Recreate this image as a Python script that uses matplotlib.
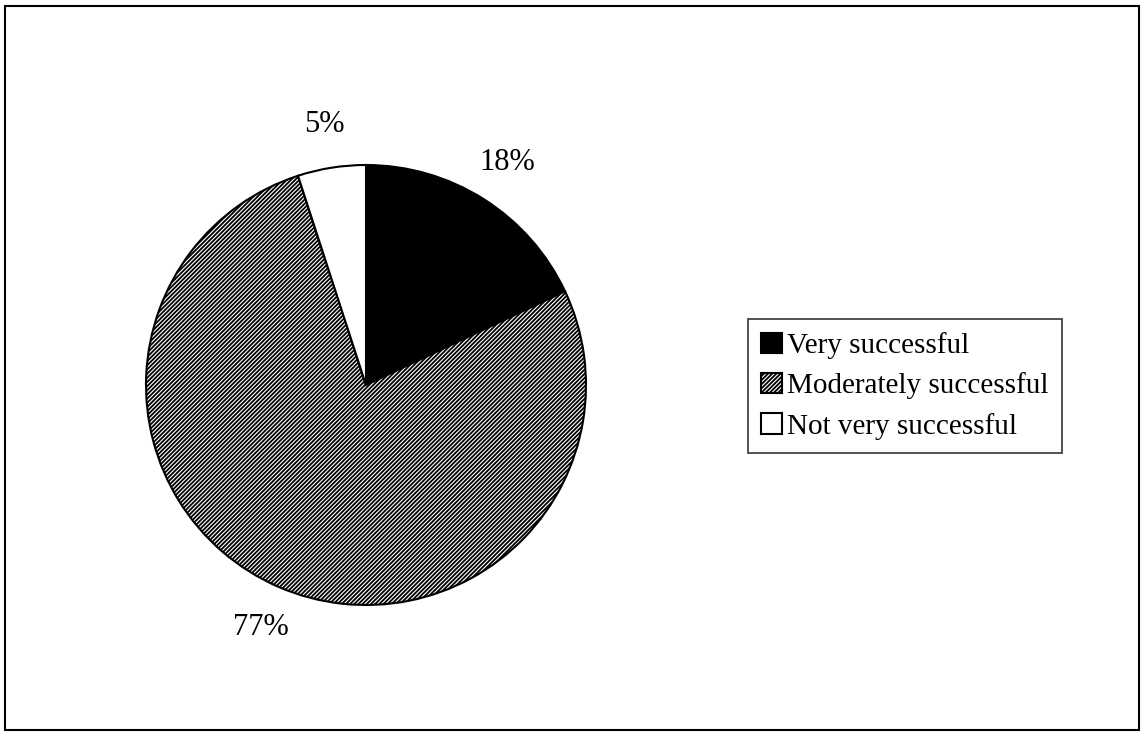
import matplotlib.pyplot as plt
from matplotlib.patches import Rectangle

# data
labels = ["Very successful", "Moderately successful", "Not very successful"]
shares = [18, 77, 5]

plt.rcParams['font.family'] = ['Liberation Serif', 'DejaVu Serif']
plt.rcParams['hatch.linewidth'] = 1.3

W, H = 1144, 735
fig = plt.figure(figsize=(W / 100, H / 100), dpi=100)

# outer frame
fig.patches.append(Rectangle((5 / W, 5 / H), 1134 / W, 724 / H, transform=fig.transFigure,
                             fill=False, edgecolor='black', linewidth=1.5))

# pie axes, centre about (366, 385) px, radius about 220 px
cx, cy, r = 366, 385, 220
ax = fig.add_axes([(cx - r) / W, (H - cy - r) / H, 2 * r / W, 2 * r / H])
wedges, texts, autotexts = ax.pie(
    shares, startangle=90, counterclock=False,
    colors=['black', 'white', 'white'],
    autopct='%d%%', pctdistance=1.2,
    wedgeprops=dict(edgecolor='black', linewidth=1.5),
    textprops=dict(fontsize=22, color='black'))
wedges[1].set_hatch('////////')
ax.set_xlim(-1, 1)
ax.set_ylim(-1, 1)
ax.set_aspect('equal')
ax.axis('off')

leg = fig.legend(wedges, labels, loc='center left',
                 bbox_to_anchor=(748 / W, 1 - 386 / H),
                 fontsize=21, frameon=True, fancybox=False,
                 edgecolor='black', handlelength=0.7, handleheight=0.7,
                 handletextpad=0.2, borderpad=0.45, labelspacing=0.45,
                 borderaxespad=0)
leg.get_frame().set_linewidth(1.2)

fig.savefig('out.png', dpi=100, facecolor='white')
